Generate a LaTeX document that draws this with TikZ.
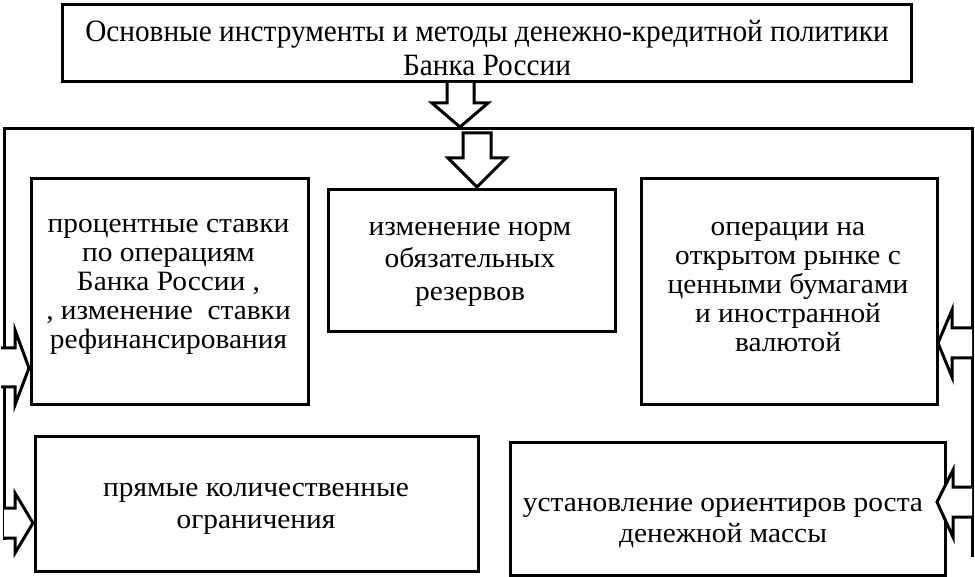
\documentclass[tikz,border=0pt]{standalone}
\usepackage{fontspec}
\setmainfont{Liberation Serif}
\newfontfamily\titlefont[FakeStretch=0.945]{Liberation Serif}
\newfontfamily\bodyfont[FakeStretch=1.05]{Liberation Serif}
\tikzset{
  box/.style={draw, line width=3pt, anchor=north west, inner sep=0pt},
  txt/.style={inner sep=0pt, align=center},
  conn/.style={line width=3pt, line cap=rect},
  blockarrow/.style={draw, fill=white, line width=3pt, line join=miter},
  bodytext/.style={font=\bodyfont\fontsize{28}{29}\selectfont},
  loosetext/.style={font=\bodyfont\fontsize{28}{32.5}\selectfont},
}
\begin{document}
\begin{tikzpicture}[x=1pt,y=-1pt]
\useasboundingbox (0,0) rectangle (975,577);
% title
\node[box, minimum width=849pt, minimum height=77pt] (title) at (61,3) {};
\node[txt, font=\titlefont\fontsize{31}{34}\selectfont] (titletext) at (487,48)
  {Основные инструменты и методы денежно-кредитной политики\\Банка России};
% boxes
\node[box, minimum width=277pt, minimum height=226pt] (b1) at (30,177) {};
\node[txt, bodytext] (t1) at (168.5,287)
  {процентные ставки\\по операциям\\Банка России ,\\, изменение\ \ ставки\\рефинансирования};
\node[box, minimum width=287pt, minimum height=142pt] (b2) at (327,188) {};
\node[txt, loosetext] (t2) at (470,264) {изменение норм\\обязательных\\резервов};
\node[box, minimum width=296pt, minimum height=226pt] (b3) at (640,177) {};
\node[txt, bodytext] (t3) at (788,287)
  {операции на\\открытом рынке с\\ценными бумагами\\и иностранной\\валютой};
\node[box, minimum width=443pt, minimum height=135pt] (b4) at (34,435) {};
\node[txt, loosetext] (t4) at (256,509) {прямые количественные\\ограничения};
\node[box, minimum width=435pt, minimum height=133pt] (b5) at (509,441) {};
\node[txt, font=\bodyfont\fontsize{28}{31}\selectfont] (t5) at (723,523) {установление ориентиров роста\\денежной массы};
% connector lines
\coordinate (tl) at (4,129);
\coordinate (tr) at (972,129);
\coordinate (lb) at (4,538);
\coordinate (rb) at (972,555);
\draw[conn] (lb) -- (tl) -- (tr) -- (rb);
% block arrows down
\draw[blockarrow] (title.south -| 447,0) -- (447,103) -- (432,103) -- (460,127) -- (488,103) -- (474,103) -- (title.south -| 474,0);
\draw[blockarrow] (463,133) -- (463,158) -- (448,158) -- (477,187) -- (506,158) -- (491,158) -- (491,133) -- cycle;
% left arrows
\draw[blockarrow] (1,348) -- (15,348) -- (15,330) -- (29,368) -- (15,405) -- (15,387) -- (1,387);
\draw[blockarrow] (lb |- 0,508) -- (15,508) -- (15,493) -- (33,523) -- (15,553) -- (15,538) -- (lb);
% right arrows
\draw[blockarrow] (972,328) -- (952,328) -- (952,310) -- (938,343) -- (952,377) -- (952,358) -- (972,358);
\draw[blockarrow] (972,487) -- (953,487) -- (953,470) -- (937,502) -- (953,537) -- (953,517) -- (972,517);
\end{tikzpicture}
\end{document}
